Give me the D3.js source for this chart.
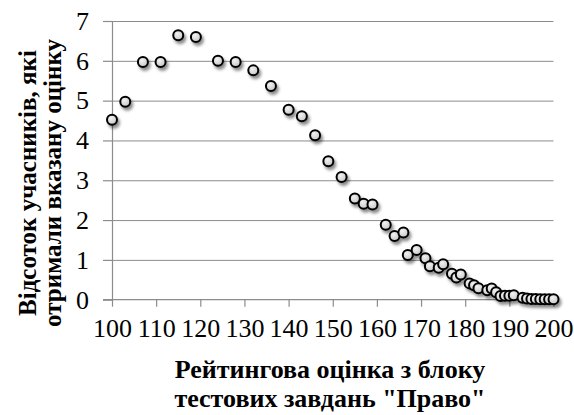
<!DOCTYPE html>
<html>
<head>
<meta charset="utf-8">
<script src="https://cdn.jsdelivr.net/npm/d3@7"></script>
<style>
  body { margin: 0; background: #fff; }
  svg { display: block; font-family: "Liberation Serif", "Times New Roman", serif; }
  .grid line { stroke: #8c8c8c; stroke-width: 1; }
  .grid path { display: none; }
  .axis path, .axis line { stroke: #8c8c8c; stroke-width: 1.2; }
  .axis text { fill: #000; font-size: 26px; font-family: "Liberation Serif", "Times New Roman", serif; }
  .title { font-weight: bold; fill: #000; }
</style>
</head>
<body>
<div id="chart"></div>
<script>
// rating score on the "Law" test block
const scores = [100, 103, 107, 111, 115, 119, 124, 128, 132, 136, 140, 143, 146, 149,
  152, 155, 157, 159, 162, 164, 166, 167, 169, 171, 172, 174, 175, 177, 178, 179,
  181, 182, 183, 185, 186, 187, 188, 189, 190, 191, 193, 194, 195, 196, 197, 198, 199, 200];
// percent of participants who got that score
const percents = [4.52, 4.97, 5.97, 5.97, 6.64, 6.6, 6.0, 5.97, 5.76, 5.37, 4.77, 4.61, 4.13, 3.48,
  3.08, 2.54, 2.41, 2.39, 1.88, 1.6, 1.69, 1.12, 1.25, 1.04, 0.84, 0.8, 0.89, 0.65, 0.56, 0.63,
  0.41, 0.36, 0.29, 0.24, 0.28, 0.19, 0.09, 0.1, 0.1, 0.11, 0.05, 0.03, 0.02, 0.02, 0.01, 0.01, 0.01, 0.01];
const xTicks = [100, 110, 120, 130, 140, 150, 160, 170, 180, 190, 200];
const yTicks = [0, 1, 2, 3, 4, 5, 6, 7];
const yTitle = ["Відсоток учасників, які", "отримали вказану оцінку"];
const xTitle = ["Рейтингова оцінка з блоку", "тестових завдань \"Право\""];

const width = 574, height = 415;
const plot = {left: 112, right: 553.5, top: 21, bottom: 299.7};

let svg = d3.select("#chart").append("svg")
    .attr("width", width)
    .attr("height", height);

let defs = svg.append("defs");
let grad = defs.append("radialGradient").attr("id", "dotfill")
    .attr("cx", "40%").attr("cy", "35%").attr("r", "70%");
grad.append("stop").attr("offset", "0%").attr("stop-color", "#f2f2f2");
grad.append("stop").attr("offset", "100%").attr("stop-color", "#c4c4c4");
let shadow = defs.append("filter").attr("id", "shadow")
    .attr("x", "-50%").attr("y", "-50%").attr("width", "220%").attr("height", "220%");
shadow.append("feDropShadow")
    .attr("dx", 2).attr("dy", 3).attr("stdDeviation", 1.8)
    .attr("flood-color", "#000").attr("flood-opacity", 0.45);

let xScale = d3.scaleLinear().domain([100, 200]).range([plot.left, plot.right]);
let yScale = d3.scaleLinear().domain([0, 7]).range([plot.bottom, plot.top]);

// horizontal gridlines
svg.append("g")
    .attr("class", "grid")
    .attr("transform", "translate(" + plot.left + ",0)")
    .call(d3.axisLeft(yScale).tickValues(yTicks.slice(1)).tickSize(-(plot.right - plot.left)).tickFormat(""));

// y axis with outside ticks
svg.append("g")
    .attr("class", "axis")
    .attr("transform", "translate(" + plot.left + ",0)")
    .call(d3.axisLeft(yScale).tickValues(yTicks).tickFormat(d3.format("d"))
        .tickSizeInner(9).tickSizeOuter(0).tickPadding(14))
    .attr("font-family", null).attr("font-size", null);

// x axis
svg.append("g")
    .attr("class", "axis")
    .attr("transform", "translate(0," + plot.bottom + ")")
    .call(d3.axisBottom(xScale).tickValues(xTicks).tickFormat(d3.format("d"))
        .tickSizeInner(7).tickSizeOuter(0).tickPadding(12))
    .attr("font-family", null).attr("font-size", null)
    .call(g => g.select(".domain").attr("d", "M" + (plot.left - 9) + ",0H" + plot.right));

// points
svg.append("g")
    .attr("filter", "url(#shadow)")
    .selectAll(".dot")
    .data(scores)
    .enter().append("circle")
    .attr("class", "dot")
    .attr("cx", d => xScale(d))
    .attr("cy", (d, i) => yScale(percents[i]))
    .attr("r", 5)
    .attr("fill", "url(#dotfill)")
    .attr("stroke", "#000")
    .attr("stroke-width", 2);

// y title, rotated
let yt = svg.append("text")
    .attr("class", "title")
    .attr("font-size", 25)
    .attr("text-anchor", "middle")
    .attr("transform", "translate(36,183)rotate(-90)");
yt.selectAll("tspan").data(yTitle).enter().append("tspan")
    .attr("x", 0)
    .attr("dy", (d, i) => i == 0 ? 0 : 25)
    .text(d => d);

// x title
let xt = svg.append("text")
    .attr("class", "title")
    .attr("font-size", 26)
    .attr("text-anchor", "middle")
    .attr("transform", "translate(330,378)");
xt.selectAll("tspan").data(xTitle).enter().append("tspan")
    .attr("x", 0)
    .attr("dy", (d, i) => i == 0 ? 0 : 29)
    .text(d => d);
</script>
</body>
</html>
